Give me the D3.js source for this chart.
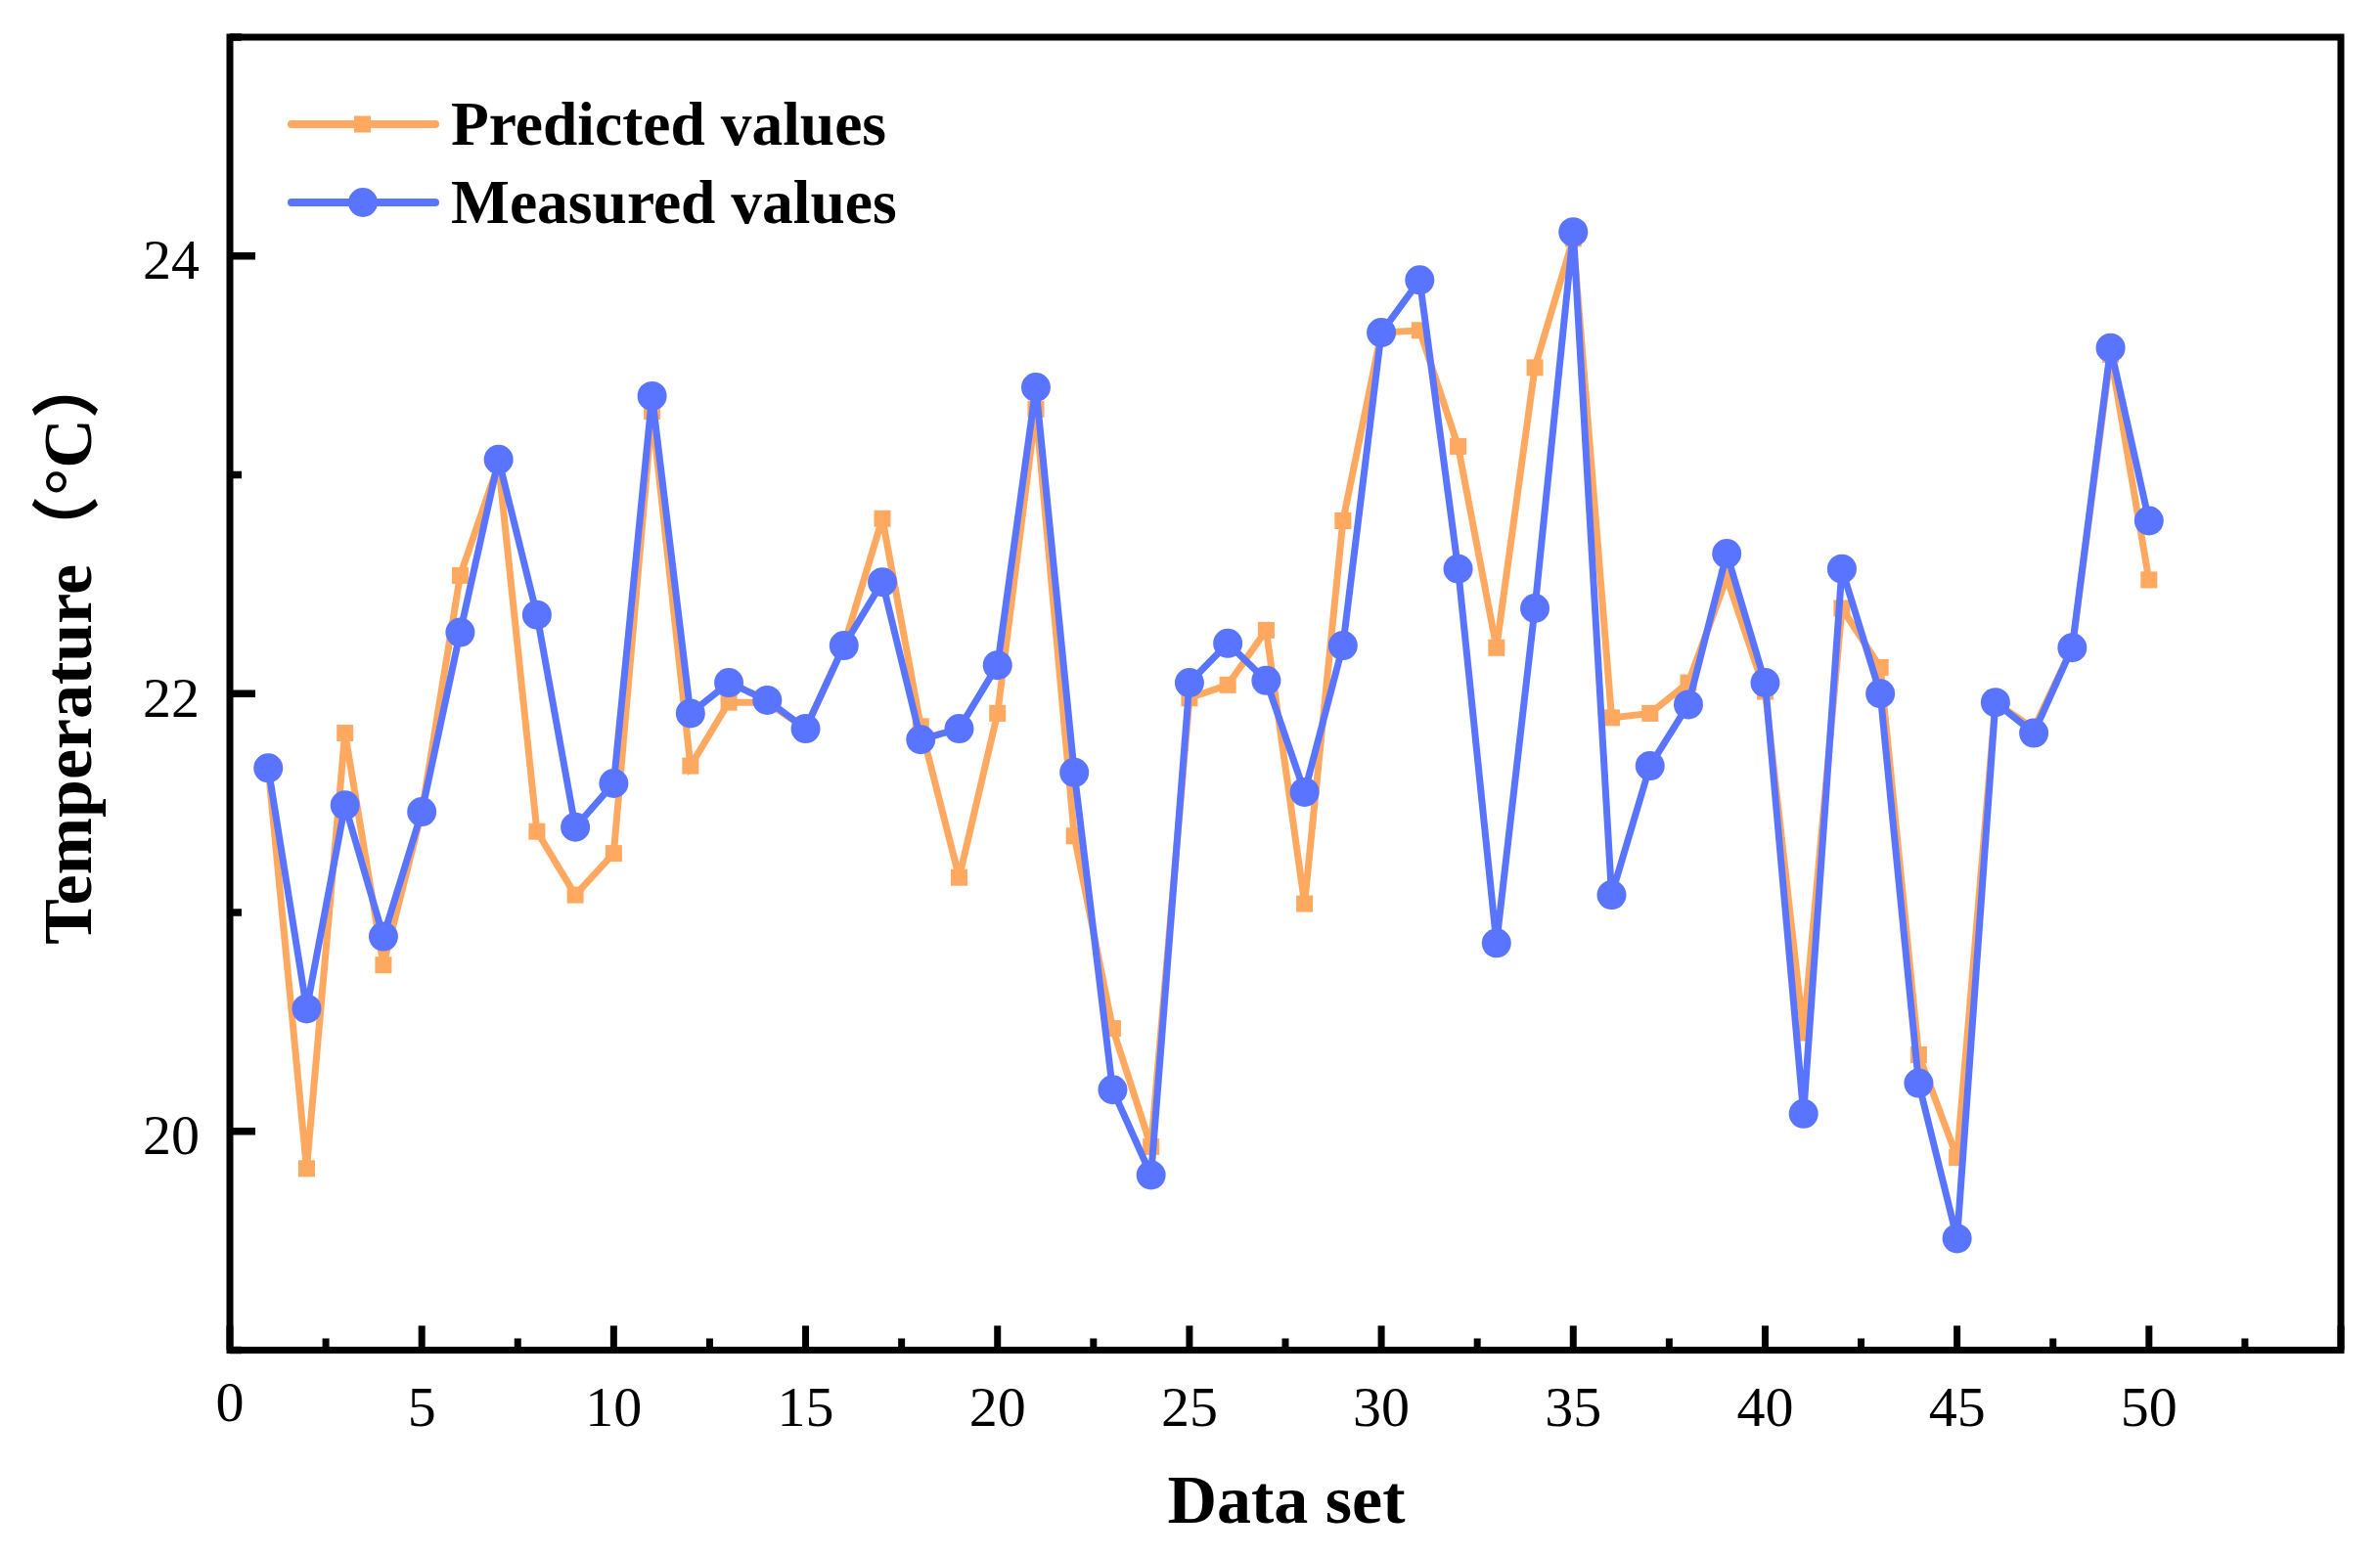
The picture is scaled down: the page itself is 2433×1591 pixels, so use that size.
<!DOCTYPE html>
<html><head><meta charset="utf-8">
<script src="https://cdn.jsdelivr.net/npm/d3@7/dist/d3.min.js"></script>
<style>html,body{margin:0;padding:0;background:#fff;}</style>
</head><body>
<svg id="chart" width="2433" height="1591"></svg>
<script>
const dataSet = d3.range(1, 51);
const measured = [21.66,20.56,21.49,20.89,21.46,22.28,23.07,22.36,21.39,21.59,
  23.36,21.91,22.05,21.97,21.84,22.22,22.51,21.79,21.84,22.13,
  23.40,21.64,20.19,19.80,22.05,22.23,22.06,21.55,22.22,23.65,
  23.89,22.57,20.86,22.39,24.11,21.08,21.67,21.95,22.64,22.05,
  20.08,22.57,22.00,20.22,19.51,21.96,21.82,22.21,23.58,22.79];
const predicted = [21.66,19.83,21.82,20.76,21.46,22.54,23.05,21.37,21.08,21.27,
  23.29,21.67,21.96,21.96,21.84,22.22,22.80,21.85,21.16,21.91,
  23.30,21.35,20.47,19.93,21.98,22.04,22.29,21.04,22.79,23.65,
  23.66,23.13,22.21,23.49,24.08,21.89,21.91,22.05,22.53,22.01,
  20.45,22.39,22.12,20.35,19.88,21.96,21.84,22.21,23.55,22.52];
const xTickLabels = [0,5,10,15,20,25,30,35,40,45,50];
const yTickLabels = [20,22,24];
const seriesNames = ["Predicted values","Measured values"];

const orange = "#FFA860", blue = "#5975FF";
const L = 235, R = 2393, T = 38, B = 1380.5;
const svg = d3.select("#chart");
const x = d3.scaleLinear().domain([0,55]).range([L,R]);
const y = d3.scaleLinear().domain([19,25]).range([B,T]);
const serif = "'Liberation Serif','Times New Roman',serif";

// ticks (inward)
const g = svg.append("g");
const xMajor = d3.range(0,56,5), xMinor = d3.range(2.5,55,5);
g.selectAll(".xM").data(xMajor).join("line")
  .attr("x1",d=>x(d)).attr("x2",d=>x(d)).attr("y1",B).attr("y2",B-25)
  .attr("stroke","#000").attr("stroke-width",7);
g.selectAll(".xm").data(xMinor).join("line")
  .attr("x1",d=>x(d)).attr("x2",d=>x(d)).attr("y1",B).attr("y2",B-12)
  .attr("stroke","#000").attr("stroke-width",7);
const yMajor = [20,22,24], yMinor = [19,21,23,25];
g.selectAll(".yM").data(yMajor).join("line")
  .attr("x1",L).attr("x2",L+26).attr("y1",d=>y(d)).attr("y2",d=>y(d))
  .attr("stroke","#000").attr("stroke-width",7.5);
g.selectAll(".ym").data(yMinor).join("line")
  .attr("x1",L).attr("x2",L+12).attr("y1",d=>y(d)).attr("y2",d=>y(d))
  .attr("stroke","#000").attr("stroke-width",7.5);

// tick labels
g.selectAll(".xl").data(xTickLabels).join("text")
  .attr("x",d=>x(d)).attr("y",d=>d===0?1453:1458)
  .attr("text-anchor","middle").attr("font-family",serif).attr("font-size",58)
  .text(d=>d);
g.selectAll(".yl").data(yTickLabels).join("text")
  .attr("x",204).attr("y",d=>y(d)+3).attr("dy","0.35em")
  .attr("text-anchor","end").attr("font-family",serif).attr("font-size",58)
  .text(d=>d);

// axis titles
svg.append("text").attr("x",1315).attr("y",1557).attr("text-anchor","middle")
  .attr("font-family",serif).attr("font-weight","bold").attr("font-size",70)
  .text("Data set");
svg.append("text").attr("transform","translate(93,662) rotate(-90)")
  .attr("text-anchor","middle")
  .attr("font-family",serif+",'Noto Sans CJK SC'").attr("font-weight","bold").attr("font-size",70)
  .text("Temperature（°C）");

// lines
const line = d3.line().x((d,i)=>x(dataSet[i])).y(d=>y(d));
svg.append("path").datum(predicted).attr("d",line).attr("fill","none")
  .attr("stroke",orange).attr("stroke-width",7).attr("stroke-linejoin","miter");
svg.selectAll(".sq").data(predicted).join("rect")
  .attr("x",(d,i)=>x(dataSet[i])-8.5).attr("y",d=>y(d)-8.5)
  .attr("width",17).attr("height",17).attr("fill",orange);
svg.append("path").datum(measured).attr("d",line).attr("fill","none")
  .attr("stroke",blue).attr("stroke-width",7).attr("stroke-linejoin","miter");
svg.selectAll(".ci").data(measured).join("circle")
  .attr("cx",(d,i)=>x(dataSet[i])).attr("cy",d=>y(d)).attr("r",15).attr("fill",blue);

// frame
svg.append("rect").attr("x",L).attr("y",T).attr("width",R-L).attr("height",B-T)
  .attr("fill","none").attr("stroke","#000").attr("stroke-width",7);

// legend
const legY = [127,207], colors=[orange,blue];
const lg = svg.append("g");
lg.selectAll(".ll").data(seriesNames).join("line")
  .attr("x1",298).attr("x2",445).attr("y1",(d,i)=>legY[i]).attr("y2",(d,i)=>legY[i])
  .attr("stroke",(d,i)=>colors[i]).attr("stroke-width",8).attr("stroke-linecap","round");
lg.append("rect").attr("x",362).attr("y",legY[0]-8.5).attr("width",17).attr("height",17).attr("fill",orange);
lg.append("circle").attr("cx",371).attr("cy",legY[1]).attr("r",15).attr("fill",blue);
lg.selectAll(".lt").data(seriesNames).join("text")
  .attr("x",461).attr("y",(d,i)=>legY[i]+21)
  .attr("font-family",serif).attr("font-weight","bold").attr("font-size",63.5)
  .text(d=>d);
</script>
</body></html>
